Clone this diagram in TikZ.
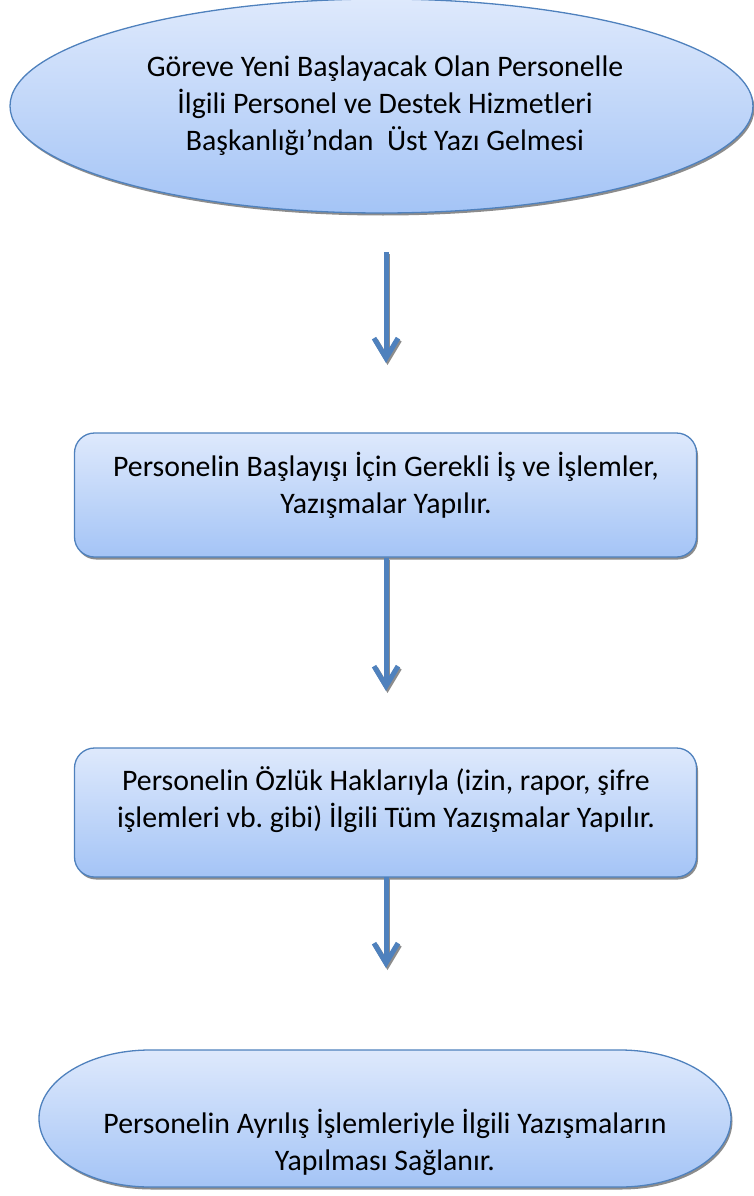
\documentclass[tikz,border=0pt]{standalone}
\usepackage{fontspec}
\setmainfont{Carlito}
\usetikzlibrary{shapes.geometric,arrows.meta}
\definecolor{accent}{RGB}{79,129,189}
\definecolor{filltop}{RGB}{222,233,252}
\definecolor{fillbot}{RGB}{164,196,246}
\definecolor{shadowgray}{RGB}{140,140,140}
\frenchspacing

\begin{document}
\begin{tikzpicture}[x=1pt,y=-1pt,
  shapebox/.style={draw=accent, line width=1.3pt, top color=filltop, bottom color=fillbot,
    inner sep=0pt,
    preaction={fill=shadowgray, transform canvas={shift={(1.5pt,-2.5pt)}}}},
  caption/.style={align=center, font=\fontsize{29.8}{37}\selectfont, text=black},
  flowtip/.style={-{Straight Barb[length=20pt,width=24pt]}},
  flow/.style={draw=accent, line width=5pt, flowtip},
  flowshadow/.style={draw=shadowgray, line width=5pt, flowtip,
    transform canvas={shift={(1.5pt,-2pt)}}}
]
\useasboundingbox (0,0) rectangle (753,1196);

% start: ellipse
\node[shapebox, ellipse, minimum width=743pt, minimum height=214pt] (start) at (381.5,106) {};
\node[caption] (t0) at (385,106)
  {Göreve Yeni Başlayacak Olan Personelle\\İlgili Personel ve Destek Hizmetleri\\Başkanlığı’ndan\ \ Üst Yazı Gelmesi};

% process boxes
\node[shapebox, rectangle, rounded corners=20pt, minimum width=622pt, minimum height=124pt] (b1) at (385.5,495) {};
\node[caption] (t1) at (386,485)
  {Personelin Başlayışı İçin Gerekli İş ve İşlemler,\\Yazışmalar Yapılır.};

\node[shapebox, rectangle, rounded corners=20pt, minimum width=622pt, minimum height=129pt] (b2) at (385.5,812.5) {};
\node[caption] (t2) at (386,800)
  {Personelin Özlük Haklarıyla (izin, rapor, şifre\\işlemleri vb. gibi) İlgili Tüm Yazışmalar Yapılır.};

% terminator
\draw[shapebox] (150,1050) -- (620,1050)
  arc[start angle=90, end angle=-90, x radius=111pt, y radius=68.5pt]
  -- (150,1187)
  arc[start angle=270, end angle=90, x radius=111pt, y radius=68.5pt] -- cycle;
\node[minimum width=692pt, minimum height=137pt, inner sep=0pt] (finish) at (385,1118.5) {};
\node[caption] (t3) at (385,1142)
  {Personelin Ayrılış İşlemleriyle İlgili Yazışmaların\\Yapılması Sağlanır.};

% connector end points
\coordinate (a1s) at (386,252);
\coordinate (a1e) at (386,363);
\coordinate (a2s) at (386,558);
\coordinate (a2e) at (386,691);
\coordinate (a3s) at (386,877);
\coordinate (a3e) at (386,968);

% connectors
\foreach \s/\e in {a1s/a1e, a2s/a2e, a3s/a3e} {
  \draw[flowshadow] (\s) -- (\e);
  \draw[flow] (\s) -- (\e);
}
\end{tikzpicture}
\end{document}
